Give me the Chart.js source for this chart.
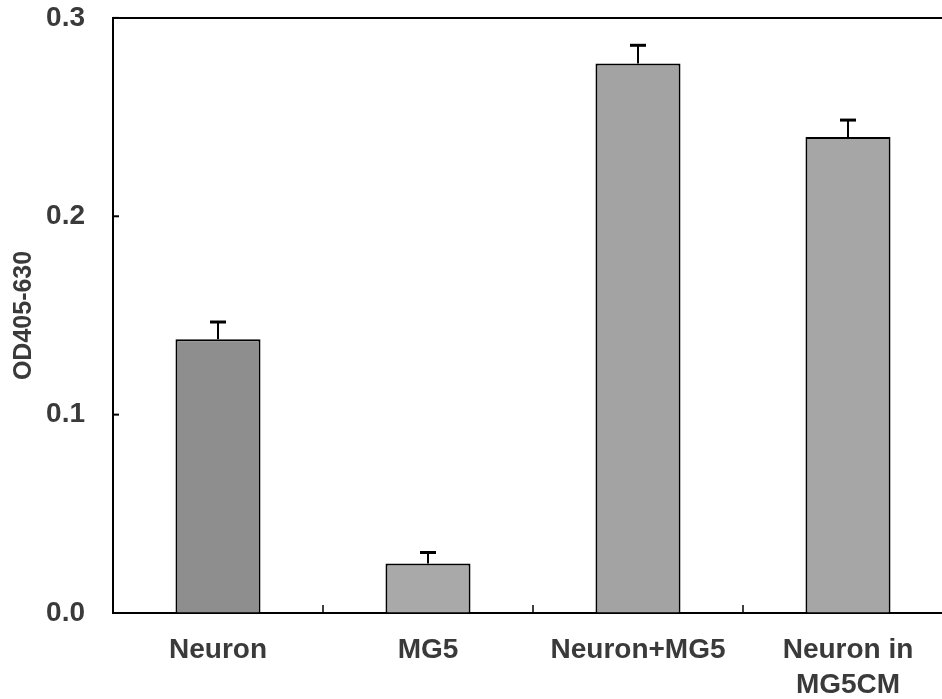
<!DOCTYPE html>
<html>
<head>
<meta charset="utf-8">
<script src="https://cdn.jsdelivr.net/npm/chart.js@4/dist/chart.umd.min.js"></script>
<style>
  html, body { margin: 0; padding: 0; background: #fff; overflow: hidden; }
  #wrap { width: 960px; height: 699px; }
</style>
</head>
<body>
<div id="wrap"><canvas id="chart" width="960" height="699"></canvas></div>
<script>
// values
const categories = ['Neuron', 'MG5', 'Neuron+MG5', ['Neuron in', 'MG5CM']];
const means = [0.138, 0.025, 0.277, 0.240];
const errors = [0.0087, 0.0055, 0.0092, 0.0085];
const barColors = ['#8e8e8e', '#a9a9a9', '#a3a3a3', '#a6a6a6'];
const yTicks = [0.0, 0.1, 0.2, 0.3];

const textColor = '#3a3a3a';
const labelFont = { family: 'Liberation Sans, Arial, sans-serif', weight: 'bold', size: 28, lineHeight: 1.28 };

// top frame line, inward ticks and upper error bars
const extras = {
  id: 'extras',
  afterDatasetsDraw(chart) {
    const ctx = chart.ctx;
    const area = chart.chartArea;
    const x = chart.scales.x;
    const y = chart.scales.y;
    ctx.save();
    ctx.strokeStyle = '#000';

    // top border
    ctx.lineWidth = 2;
    ctx.beginPath();
    ctx.moveTo(area.left, area.top);
    ctx.lineTo(area.right, area.top);
    ctx.stroke();

    // y ticks pointing inward
    yTicks.forEach(v => {
      const py = y.getPixelForValue(v);
      ctx.beginPath();
      ctx.moveTo(area.left, py);
      ctx.lineTo(area.left + 6, py);
      ctx.stroke();
    });

    // category separators on the x axis
    ctx.lineWidth = 1.5;
    for (let i = 1; i < categories.length; i++) {
      const px = (x.getPixelForValue(i - 1) + x.getPixelForValue(i)) / 2;
      ctx.beginPath();
      ctx.moveTo(px, area.bottom);
      ctx.lineTo(px, area.bottom - 8);
      ctx.stroke();
    }

    // error bars (upper half only)
    means.forEach((m, i) => {
      const px = x.getPixelForValue(i);
      const top = y.getPixelForValue(m + errors[i]);
      const base = y.getPixelForValue(m);
      ctx.lineWidth = 2;
      ctx.beginPath();
      ctx.moveTo(px, base);
      ctx.lineTo(px, top);
      ctx.stroke();
      ctx.lineWidth = 3;
      ctx.beginPath();
      ctx.moveTo(px - 8, top);
      ctx.lineTo(px + 8, top);
      ctx.stroke();
    });
    ctx.restore();
  }
};

new Chart(document.getElementById('chart'), {
  type: 'bar',
  data: {
    labels: categories,
    datasets: [{
      data: means,
      backgroundColor: barColors,
      borderColor: '#000',
      borderWidth: 2,
      borderSkipped: 'bottom',
      barPercentage: 0.405,
      categoryPercentage: 1.0
    }]
  },
  options: {
    responsive: false,
    animation: false,
    layout: { padding: { top: 0, right: 7, left: 0, bottom: 0 } },
    plugins: {
      legend: { display: false },
      tooltip: { enabled: false }
    },
    scales: {
      x: {
        grid: { display: false, drawTicks: false },
        border: { display: true, color: '#000', width: 2 },
        ticks: {
          color: textColor,
          font: labelFont,
          padding: 19,
          maxRotation: 0,
          autoSkip: false
        },
        afterFit(scale) { scale.height = 86; }
      },
      y: {
        min: 0,
        max: 0.3,
        // invisible tick marks push the labels away from the axis
        grid: { display: true, drawOnChartArea: false, drawTicks: true, tickLength: 28, tickColor: 'rgba(0,0,0,0)', color: 'rgba(0,0,0,0)' },
        border: { display: true, color: '#000', width: 2 },
        ticks: {
          stepSize: 0.1,
          color: textColor,
          font: labelFont,
          padding: 0,
          callback: v => Number(v).toFixed(1)
        },
        title: {
          display: true,
          text: 'OD405-630',
          color: textColor,
          font: { family: 'Liberation Sans, Arial, sans-serif', weight: 'bold', size: 25 },
          padding: { top: 9, bottom: 9 }
        },
        afterFit(scale) { scale.width = 113; }
      }
    }
  },
  plugins: [extras]
});
</script>
</body>
</html>
